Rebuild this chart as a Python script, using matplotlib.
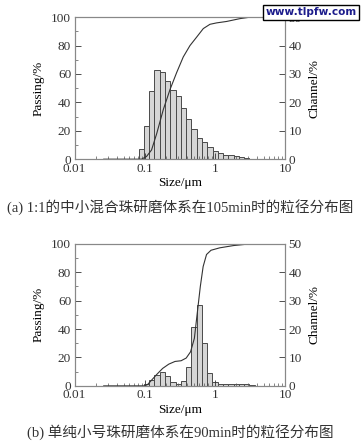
import numpy as np
import matplotlib.pyplot as plt

plt.rcParams['font.family'] = ['Liberation Serif', 'Noto Sans CJK SC']
plt.rcParams['text.color'] = '#333333'

# channel edges (Microtrac, ratio 2^(1/4))
ratio = 2 ** 0.25

# (a) 1:1 mixed beads, 105 min
a_start = 0.0818
a_channel = [3.5, 11.6, 23.9, 31.5, 30.8, 27.6, 24.5, 22.3, 18.0, 14.0, 10.5,
             7.6, 6.0, 4.2, 2.8, 2.1, 1.6, 1.4, 1.2, 0.9, 0.3]
a_size = [0.026, 0.09, 0.106, 0.125, 0.148, 0.184, 0.229, 0.285, 0.354, 0.441,
          0.55, 0.684, 0.851, 1.06, 1.47, 2.28, 3.16, 3.6]
a_pass = [0, 0, 1.9, 6.5, 18, 35, 49, 61, 72, 80, 86, 92, 95, 96, 97, 99, 100, 100]

# (b) small beads only, 90 min
b_start = 0.0972
b_channel = [0.6, 1.9, 3.8, 4.8, 3.4, 1.5, 0.8, 1.8, 6.7, 20.8, 28.5, 15.0,
             4.4, 1.3, 0.8, 0.5, 0.5, 0.5, 0.5, 0.5, 0.4]
b_size = [0.026, 0.1, 0.11, 0.125, 0.148, 0.18, 0.22, 0.27, 0.33, 0.39, 0.45,
          0.51, 0.56, 0.62, 0.68, 0.76, 0.88, 1.17, 1.84, 3.16, 3.3]
b_pass = [0, 0, 1, 4, 8, 12.3, 15.3, 17.2, 17.7, 19.6, 24, 33.5, 51, 70, 84,
          92.5, 95.5, 97.2, 98.8, 100, 100]

captions = ['(a) 1:1的中小混合珠研磨体系在105min时的粒径分布图',
            '(b) 单纯小号珠研磨体系在90min时的粒径分布图']
caption_y = [-0.335, -0.328]

fig = plt.figure(figsize=(3.64, 4.41), dpi=100)

panels = [(a_start, a_channel, a_size, a_pass, 0.639),
          (b_start, b_channel, b_size, b_pass, 0.125)]

for i, (start, chan, size, passing, bottom) in enumerate(panels):
    ax = fig.add_axes([0.205, bottom, 0.578, 0.322])
    ax2 = ax.twinx()

    edges = start * ratio ** np.arange(len(chan) + 1)
    ax2.bar(edges[:-1], chan, width=np.diff(edges), align='edge',
            color='#d6d6d6', edgecolor='#4a4a4a', linewidth=0.7)
    ax.plot(size, passing, color='#333333', linewidth=0.8)

    ax.set_zorder(ax2.get_zorder() + 1)
    ax.patch.set_visible(False)

    ax.set_xscale('log')
    ax.set_xlim(0.01, 10)
    ax.set_ylim(0, 100)
    ax2.set_ylim(0, 50)
    ax.set_yticks([0, 20, 40, 60, 80, 100])
    ax.set_yticks([10, 30, 50, 70, 90], minor=True)
    ax2.set_yticks([0, 10, 20, 30, 40, 50])
    ax.set_xticks([0.01, 0.1, 1, 10])
    ax.set_xticklabels(['0.01', '0.1', '1', '10'])

    for a in (ax, ax2):
        a.tick_params(direction='in', labelsize=9.5, colors='#333333',
                      length=4, width=0.6, pad=2.5)
        a.tick_params(which='minor', direction='in', length=2.5, width=0.5,
                      colors='#555555')
        for s in a.spines.values():
            s.set_color('#888888')
            s.set_linewidth(0.8)

    ax.set_ylabel('Passing/%', fontsize=9.5, labelpad=5)
    ax2.set_ylabel('Channel/%', fontsize=9.5, labelpad=5)
    ax.set_xlabel('Size/\u03bcm', fontsize=9.5, labelpad=2)
    ax.text(0.5, caption_y[i], captions[i], transform=ax.transAxes,
            ha='center', va='center', fontsize=10.5)

fig.text(0.979, 0.983, 'www.tlpfw.com', ha='right', va='top', fontsize=7.6,
         fontweight='bold', color='#1c1c8c', family='DejaVu Sans',
         bbox=dict(boxstyle='square,pad=0.25', facecolor='white',
                   edgecolor='black', linewidth=1))

plt.savefig('out.png', dpi=100)
